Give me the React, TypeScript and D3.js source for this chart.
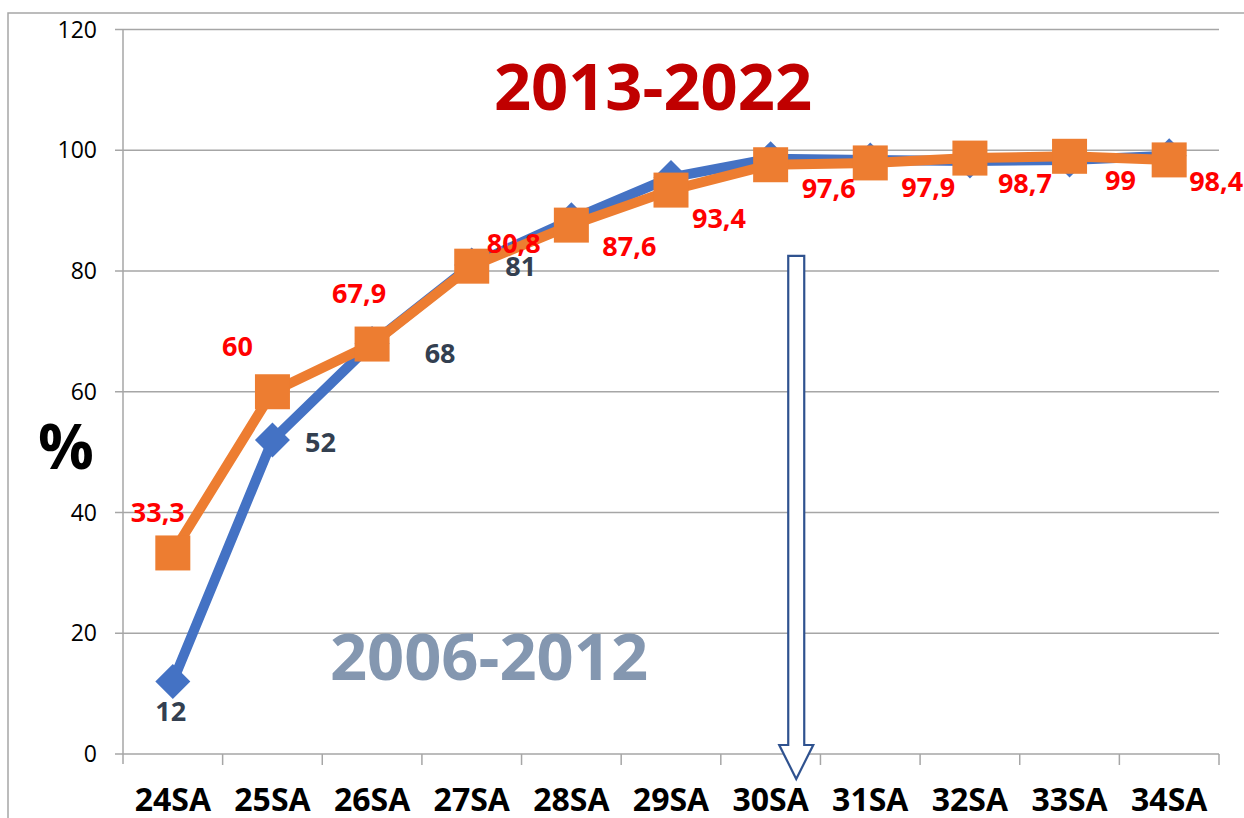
import * as d3 from 'd3';

const categories = ['24SA', '25SA', '26SA', '27SA', '28SA', '29SA', '30SA', '31SA', '32SA', '33SA', '34SA'];
const values2006 = [12, 52, 68, 81, 88.5, 95.5, 98.6, 98.4, 98.2, 98.4, 99.1];
const values2013 = [33.3, 60, 67.9, 80.8, 87.6, 93.4, 97.6, 97.9, 98.7, 99, 98.4];
// only the first four points of the older period carry a label
const labeled2006 = [true, true, true, true, false, false, false, false, false, false, false];
const yTicks = [0, 20, 40, 60, 80, 100, 120];
const arrowCategory = '30SA';

// label placement relative to each point (dx, dy of the text centre)
const offsets2013: [number, number][] = [
    [-15, -40], [-35, -45], [-13, -51], [42, -23], [58, 21], [48, 28],
    [58, 24], [58, 25], [55, 25], [51, 24], [47, 22],
];
const offsets2006: [number, number][] = [
    [-2, 30], [48, 2], [68, 10], [49, 2], [0, 0], [0, 0], [0, 0], [0, 0], [0, 0], [0, 0], [0, 0],
];

const W = 1244;
const H = 818;
const FONT = "'Open Sans', 'Noto Sans', sans-serif";
const GRID = '#a6a6a6';
const BLUE = '#4472c4';
const ORANGE = '#ed7d31';

const fmt = (v: number) => String(v).replace('.', ',');

export default function App() {
    const x = d3.scaleBand().domain(categories).range([123, 1219]).padding(0);
    const y = d3.scaleLinear().domain([0, 120]).range([754, 29.5]);
    const bw = x.bandwidth();
    const cx = (c: string) => (x(c) ?? 0) + bw / 2;

    const line = d3
        .line<number>()
        .x((_, i) => cx(categories[i]))
        .y(d => y(d));

    const diamond = 17.5;
    const sq = 35;

    // hollow down arrow at 30SA
    const ax = (x(arrowCategory) ?? 0) + bw * 0.757;
    const aTop = y(82.5);
    const aHead = y(0) - 9;
    const aTip = y(0) + 25;
    const sw = 8;
    const hw = 17;
    const arrowPath = d3.path();
    arrowPath.moveTo(ax - sw, aTop);
    arrowPath.lineTo(ax + sw, aTop);
    arrowPath.lineTo(ax + sw, aHead);
    arrowPath.lineTo(ax + hw, aHead);
    arrowPath.lineTo(ax, aTip);
    arrowPath.lineTo(ax - hw, aHead);
    arrowPath.lineTo(ax - sw, aHead);
    arrowPath.closePath();

    return (
        <svg
            width={W}
            height={H}
            viewBox={`0 0 ${W} ${H}`}
            style={{ position: 'absolute', left: 0, top: 0, background: '#fff' }}
            fontFamily={FONT}
        >
            <rect x={8} y={13} width={W + 20} height={H + 20} fill="#fff" stroke={GRID} strokeWidth={1.5} />

            {/* grid and y axis */}
            {yTicks.map(t => (
                <g key={t}>
                    <line x1={115} x2={1219} y1={y(t)} y2={y(t)} stroke={GRID} strokeWidth={1.5} />
                    <text x={97} y={y(t)} dy="0.35em" textAnchor="end" fontSize={23} fill="#000">
                        {t}
                    </text>
                </g>
            ))}
            <line x1={123} x2={123} y1={y(120)} y2={y(0) + 10} stroke={GRID} strokeWidth={1.5} />

            {/* x axis ticks and labels */}
            {categories.map(c => (
                <line key={c} x1={(x(c) ?? 0) + bw} x2={(x(c) ?? 0) + bw} y1={y(0)} y2={y(0) + 11} stroke={GRID} strokeWidth={1.5} />
            ))}
            {categories.map(c => (
                <text key={c} x={cx(c)} y={811} textAnchor="middle" fontSize={32} fontWeight={700} fill="#000">
                    {c}
                </text>
            ))}

            <text x={66} y={469} textAnchor="middle" fontSize={62} fontWeight={700} fill="#000">
                %
            </text>

            {/* period titles */}
            <text x={653} y={110} textAnchor="middle" fontSize={65} fontWeight={700} fill="#c00000">
                2013-2022
            </text>
            <text x={489} y={680} textAnchor="middle" fontSize={65} fontWeight={700} fill="#8497b0">
                2006-2012
            </text>

            <path d={arrowPath.toString()} fill="#fff" stroke="#2f528f" strokeWidth={2.2} strokeLinejoin="miter" />

            {/* 2006-2012 series */}
            <path d={line(values2006) ?? ''} fill="none" stroke={BLUE} strokeWidth={10} strokeLinejoin="round" />
            {values2006.map((v, i) => {
                const px = cx(categories[i]);
                const py = y(v);
                return (
                    <path
                        key={i}
                        d={`M${px},${py - diamond}L${px + diamond},${py}L${px},${py + diamond}L${px - diamond},${py}Z`}
                        fill={BLUE}
                    />
                );
            })}

            {/* 2013-2022 series */}
            <path d={line(values2013) ?? ''} fill="none" stroke={ORANGE} strokeWidth={10} strokeLinejoin="round" />
            {values2013.map((v, i) => (
                <rect key={i} x={cx(categories[i]) - sq / 2} y={y(v) - sq / 2} width={sq} height={sq} fill={ORANGE} />
            ))}

            {/* data labels */}
            {values2006.map((v, i) =>
                labeled2006[i] ? (
                    <text
                        key={i}
                        x={cx(categories[i]) + offsets2006[i][0]}
                        y={y(v) + offsets2006[i][1]}
                        dy="0.35em"
                        textAnchor="middle"
                        fontSize={27}
                        fontWeight={700}
                        fill="#333f50"
                    >
                        {fmt(v)}
                    </text>
                ) : null
            )}
            {values2013.map((v, i) => (
                <text
                    key={i}
                    x={cx(categories[i]) + offsets2013[i][0]}
                    y={y(v) + offsets2013[i][1]}
                    dy="0.35em"
                    textAnchor="middle"
                    fontSize={27}
                    fontWeight={700}
                    fill="#ff0000"
                >
                    {fmt(v)}
                </text>
            ))}
        </svg>
    );
}
